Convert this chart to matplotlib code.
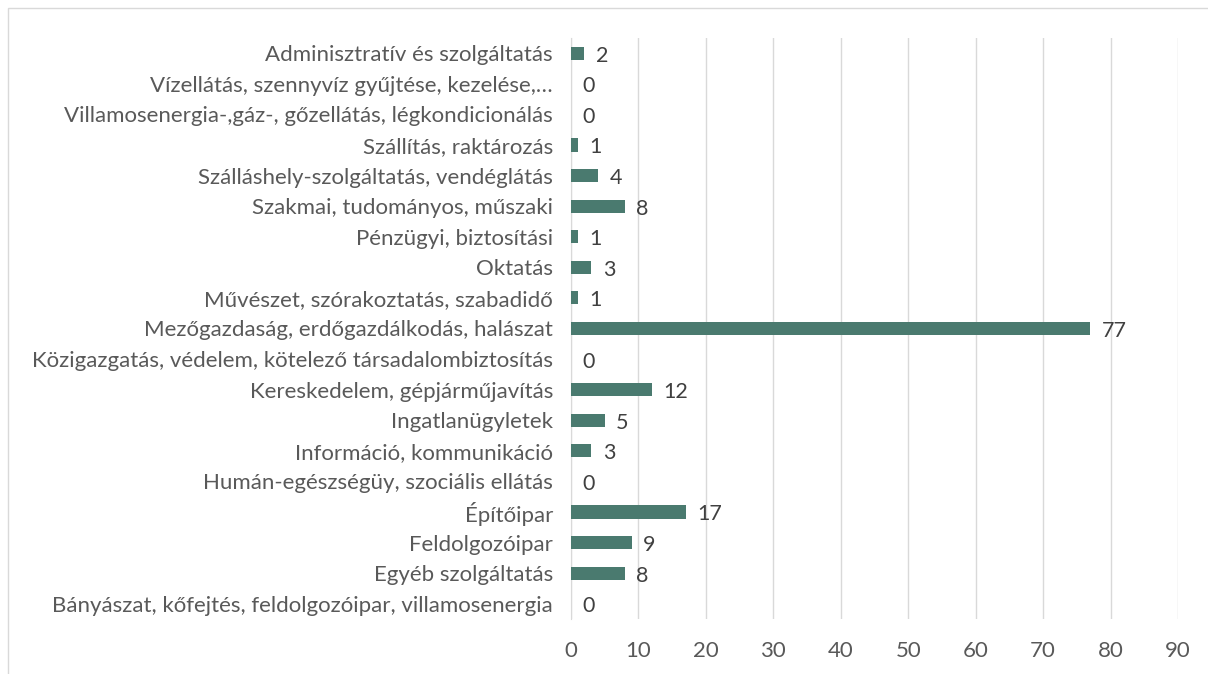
import numpy as np
import matplotlib.pyplot as plt
from matplotlib.patches import Rectangle

# categories listed from bottom to top, as drawn
categories = [
    'Bányászat, kőfejtés, feldolgozóipar, villamosenergia',
    'Egyéb szolgáltatás',
    'Feldolgozóipar',
    'Építőipar',
    'Humán-egészségüy, szociális ellátás',
    'Információ, kommunikáció',
    'Ingatlanügyletek',
    'Kereskedelem, gépjárműjavítás',
    'Közigazgatás, védelem, kötelező társadalombiztosítás',
    'Mezőgazdaság, erdőgazdálkodás, halászat',
    'Művészet, szórakoztatás, szabadidő',
    'Oktatás',
    'Pénzügyi, biztosítási',
    'Szakmai, tudományos, műszaki',
    'Szálláshely-szolgáltatás, vendéglátás',
    'Szállítás, raktározás',
    'Villamosenergia-,gáz-, gőzellátás, légkondicionálás',
    'Vízellátás, szennyvíz gyűjtése, kezelése,…',
    'Adminisztratív és szolgáltatás',
]
values = [0, 8, 9, 17, 0, 3, 5, 12, 0, 77, 1, 3, 1, 8, 4, 1, 0, 0, 2]
xticks = [0, 10, 20, 30, 40, 50, 60, 70, 80, 90]

plt.rcParams['font.family'] = ['Lato', 'DejaVu Sans']
text_col = '#595959'
bar_col = '#4a7a6f'

fig = plt.figure(figsize=(12.08, 6.74), dpi=100)
# light frame around the chart (cut off at right and bottom)
fig.patches.append(Rectangle((8/1208, -0.1), 1.2, 1 - 8/674 + 0.1,
                             transform=fig.transFigure, fill=False,
                             edgecolor='#d9d9d9', linewidth=1))

ax = fig.add_axes([571/1208, 1 - 619/674, (1178 - 571)/1208, (619 - 38)/674])
y = np.arange(len(categories))
ax.barh(y, values, height=0.43, color=bar_col, zorder=3)

for yi, v in zip(y, values):
    ax.text(v + 1.7, yi - 0.08, str(v), va='center', ha='left', fontsize=15.5,
            color='#404040')

ax.set_xlim(0, 90)
ax.set_ylim(-0.5, len(categories) - 0.5)
ax.set_xticks(xticks)
ax.set_yticks(y)
ax.set_yticklabels(categories)
ax.grid(axis='x', color='#d9d9d9', linewidth=1, zorder=0)
for s in ['top', 'right', 'bottom']:
    ax.spines[s].set_visible(False)
ax.spines['left'].set_color('#d9d9d9')
ax.tick_params(axis='both', length=0, labelsize=16, labelcolor=text_col)
ax.tick_params(axis='y', pad=13)
ax.tick_params(axis='x', pad=16)

fig.savefig('out.png', dpi=100)
